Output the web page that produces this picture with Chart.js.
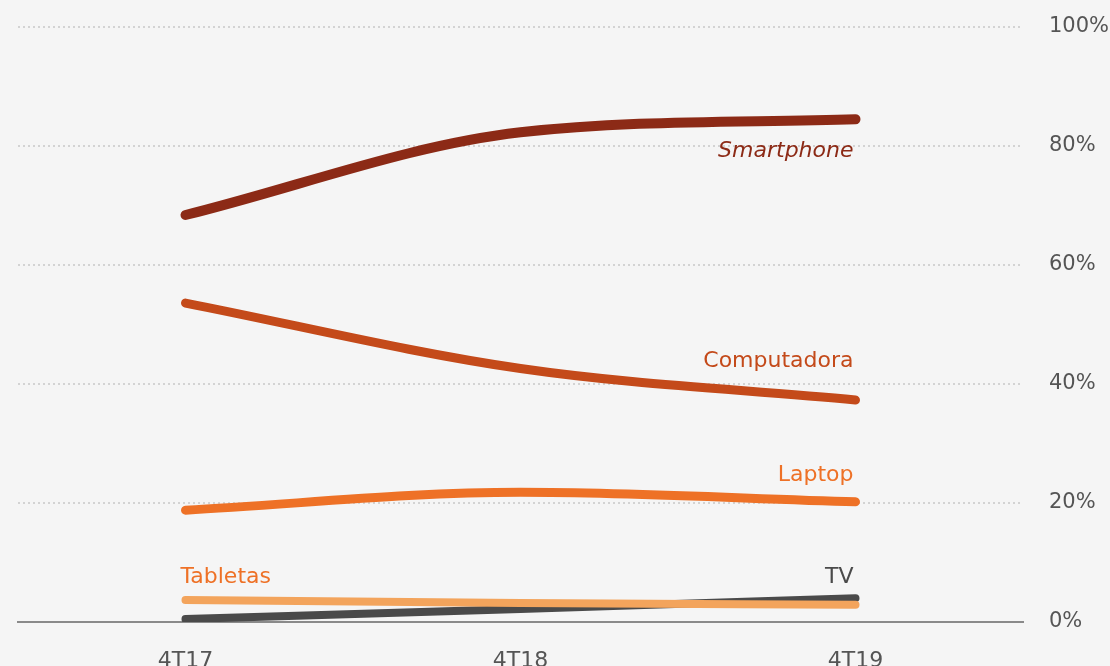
<!DOCTYPE html>
<html>
<head>
<meta charset="utf-8">
<script src="https://cdn.jsdelivr.net/npm/chart.js@4"></script>
<style>
  html, body { margin: 0; padding: 0; background: #f5f5f5; }
  #wrap { width: 1110px; height: 666px; }
</style>
</head>
<body>
<div id="wrap"><canvas id="grafico"></canvas></div>
<script>
// Datos
const trimestres = ['4T17', '4T18', '4T19'];
const smartphone = [68.4, 82.3, 84.5];
const computadora = [53.6, 42.6, 37.3];
const laptop = [18.8, 21.8, 20.2];
const tabletas = [3.7, 3.2, 2.9];
const tv = [0.5, 2.2, 4.0];
const ticksY = [0, 20, 40, 60, 80, 100];

// Colores
const colores = {
    smartphone: '#8c2a16',
    computadora: '#c44a1a',
    laptop: '#ee7126',
    tabletas: '#f3a45c',
    tv: '#4a4a4a',
    texto: '#555'
};

const fuente = "'DejaVu Sans', sans-serif";

// Etiquetas al final de cada serie
const etiquetas = [
    { ds: 0, texto: 'Smartphone', punto: 2, dx: -2, dy: 32, align: 'right', italic: true, color: colores.smartphone },
    { ds: 1, texto: 'Computadora', punto: 2, dx: -2, dy: -39, align: 'right', color: colores.computadora },
    { ds: 2, texto: 'Laptop', punto: 2, dx: -2, dy: -27, align: 'right', color: colores.laptop },
    { ds: 3, texto: 'Tabletas', punto: 0, dx: -5, dy: -23, align: 'left', color: colores.laptop },
    { ds: 4, texto: 'TV', punto: 2, dx: -2, dy: -21, align: 'right', color: colores.tv }
];

const pluginEtiquetas = {
    id: 'etiquetas',
    afterDatasetsDraw(chart) {
        const ctx = chart.ctx;
        ctx.save();
        etiquetas.forEach(e => {
            const p = chart.getDatasetMeta(e.ds).data[e.punto];
            ctx.font = (e.italic ? 'italic ' : '') + '22px ' + fuente;
            ctx.fillStyle = e.color;
            ctx.textAlign = e.align;
            ctx.textBaseline = 'middle';
            ctx.fillText(e.texto, p.x + e.dx, p.y + e.dy);
        });
        ctx.restore();
    }
};

const pluginFondo = {
    id: 'fondo',
    beforeDraw(chart) {
        const ctx = chart.ctx;
        ctx.save();
        ctx.fillStyle = '#f5f5f5';
        ctx.fillRect(0, 0, chart.width, chart.height);
        ctx.restore();
    }
};

function serie(nombre, datos, color, grosor) {
    return {
        label: nombre,
        data: datos,
        borderColor: color,
        borderWidth: grosor,
        borderCapStyle: 'round',
        pointRadius: 0,
        cubicInterpolationMode: 'monotone',
        fill: false
    };
}

new Chart(document.getElementById('grafico'), {
    type: 'line',
    data: {
        labels: trimestres,
        datasets: [
            serie('Smartphone', smartphone, colores.smartphone, 10),
            serie('Computadora', computadora, colores.computadora, 9),
            serie('Laptop', laptop, colores.laptop, 9),
            serie('Tabletas', tabletas, colores.tabletas, 8),
            serie('TV', tv, colores.tv, 8)
        ]
    },
    options: {
        responsive: true,
        maintainAspectRatio: false,
        animation: false,
        layout: { autoPadding: false, padding: { left: 18, top: 27, right: 0, bottom: 0 } },
        plugins: {
            legend: { display: false },
            tooltip: { enabled: false }
        },
        scales: {
            x: {
                offset: true,
                grid: { display: false },
                border: { color: '#8a8a8a', width: 2 },
                ticks: { color: colores.texto, font: { family: fuente, size: 22 }, padding: 18 },
                afterFit(scale) { scale.height = 44; scale.paddingLeft = 0; scale.paddingRight = 0; }
            },
            y: {
                position: 'right',
                min: 0,
                max: 100,
                afterBuildTicks(scale) { scale.ticks = ticksY.map(v => ({ value: v })); },
                grid: {
                    color: ctx => ctx.tick.value === 0 ? 'rgba(0,0,0,0)' : '#d3d3d3',
                    lineWidth: 2,
                    drawTicks: false
                },
                border: { display: false, dash: [2, 3] },
                ticks: {
                    color: colores.texto,
                    font: { family: fuente, size: 21 },
                    padding: 26,
                    callback: v => v + '%'
                },
                afterFit(scale) { scale.width = 87; scale.paddingTop = 0; scale.paddingBottom = 0; }
            }
        }
    },
    plugins: [pluginFondo, pluginEtiquetas]
});
</script>
</body>
</html>
